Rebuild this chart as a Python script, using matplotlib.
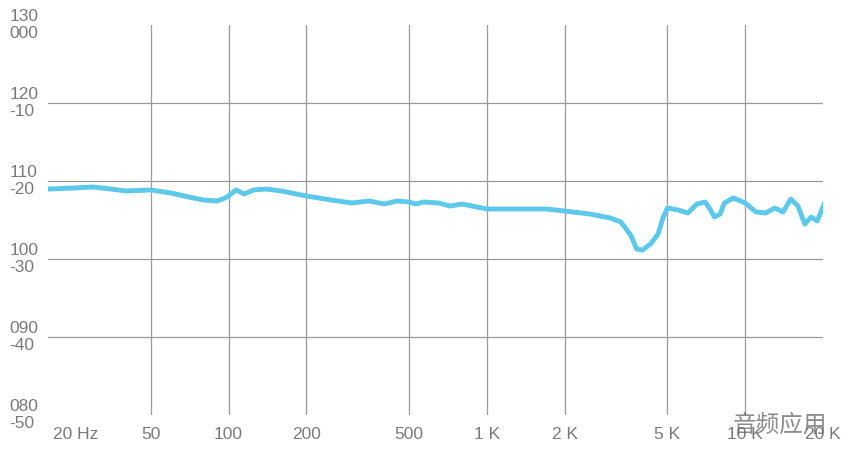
import numpy as np
import matplotlib
matplotlib.use("Agg")
import matplotlib.pyplot as plt
import matplotlib.transforms as mtransforms

plt.rcParams['font.family'] = ['Liberation Sans', 'DejaVu Sans']

# frequency response (Hz, dB)
freq = [20, 25, 30, 35, 40, 50, 60, 70, 80, 90, 95, 100, 107, 115, 125, 140, 160,
        200, 250, 300, 350, 400, 450, 500, 530, 570, 650, 720, 800, 1000, 1300,
        1700, 2000, 2500, 3000, 3300, 3600, 3800, 4000, 4300, 4600, 4800, 5000,
        5500, 6000, 6500, 7000, 7300, 7600, 8000, 8300, 9000, 10000, 11000,
        12000, 13000, 14000, 15000, 16000, 17000, 18000, 19000, 20500]
level = [108.97, 109.10, 109.23, 108.97, 108.72, 108.85, 108.46, 107.95, 107.56,
         107.44, 107.69, 108.08, 108.85, 108.33, 108.85, 108.97, 108.72, 108.08,
         107.56, 107.18, 107.44, 107.05, 107.44, 107.31, 107.05, 107.31, 107.18,
         106.79, 107.05, 106.41, 106.41, 106.41, 106.15, 105.77, 105.26, 104.74,
         103.08, 101.28, 101.15, 101.92, 103.21, 105.26, 106.54, 106.28, 105.90,
         107.05, 107.31, 106.41, 105.38, 105.77, 107.18, 107.82, 107.18, 106.03,
         105.90, 106.54, 106.03, 107.69, 106.79, 104.49, 105.38, 104.87, 107.56]

x_ticks = [20, 50, 100, 200, 500, 1000, 2000, 5000, 10000, 20000]
x_labels = ["20 Hz", "50", "100", "200", "500", "1 K", "2 K", "5 K", "10 K", "20 K"]
y_ticks = [80, 90, 100, 110, 120, 130]
y_top = ["080", "090", "100", "110", "120", "130"]
y_bot = ["-50", "-40", "-30", "-20", "-10", "000"]

grey = "#7a7a7a"
fig = plt.figure(figsize=(8.5, 4.5), dpi=100)
ax = fig.add_axes([48 / 850, 35 / 450, 775 / 850, 390 / 450])
ax.set_xscale("log")
ax.set_xlim(20, 20000)
ax.set_ylim(80, 130)

for f in x_ticks[1:-1]:
    ax.axvline(f, color="#9a9a9a", lw=0.9, zorder=1)
for v in y_ticks[1:-1]:
    ax.axhline(v, color="#9a9a9a", lw=0.9, zorder=1)

ax.plot(freq, level, color="#5bc8ec", lw=3.5, solid_capstyle="round", zorder=3)

for s in ax.spines.values():
    s.set_visible(False)
ax.set_xticks([])
ax.set_yticks([])
ax.minorticks_off()

for f, lab in zip(x_ticks, x_labels):
    xpos = 25.5 if f == 20 else f
    ax.text(xpos, 77.5, lab, ha="center", va="center", fontsize=12.5,
            color=grey, clip_on=False)

ytrans = mtransforms.blended_transform_factory(ax.transAxes, ax.transData)
for v, a, b in zip(y_ticks, y_top, y_bot):
    ax.text(-0.05, v + 1.15, a, ha="left", va="center", fontsize=12.5,
            color=grey, transform=ytrans, clip_on=False)
    ax.text(-0.05, v - 1.15, b, ha="left", va="center", fontsize=12.5,
            color=grey, transform=ytrans, clip_on=False)

fig.text(780 / 850, 1 - 425 / 450, "音频应用", fontsize=17, color="#666666",
         alpha=0.75, ha="center", va="center", family=['Noto Sans CJK SC'])

fig.savefig("out.png", dpi=100)
